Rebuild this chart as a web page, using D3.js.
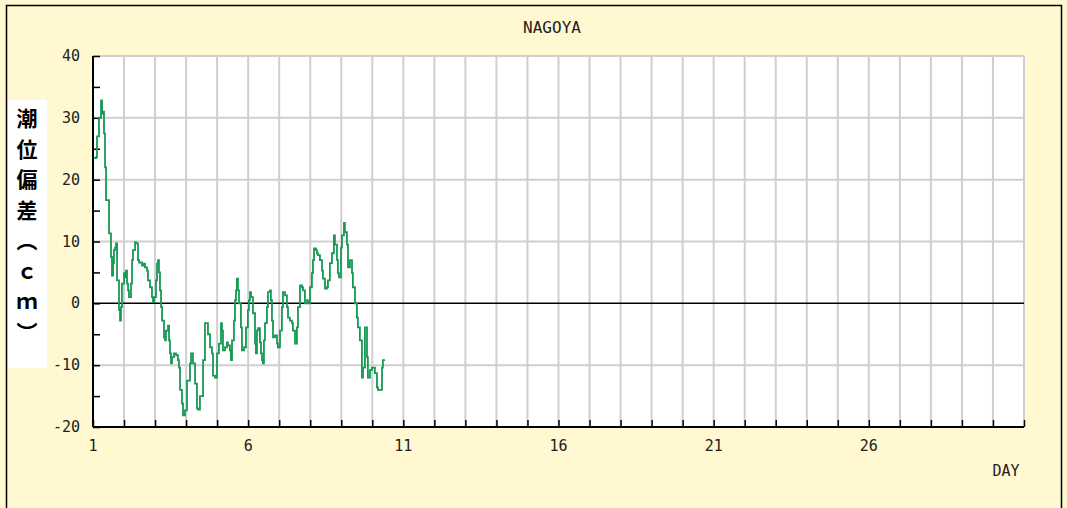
<!DOCTYPE html>
<html><head><meta charset="utf-8">
<script src="https://cdn.jsdelivr.net/npm/d3@7"></script>
<style>body{margin:0;background:#fff;}svg{display:block;}</style>
</head><body>
<svg id="c" width="1067" height="508"></svg>
<script>
// hours since day 1 00:00
const hours = [0.8,2.3,3.1,4.6,6.2,7.0,7.7,8.5,9.3,10.1,11.6,12.4,13.9,14.7,15.5,16.2,17.0,17.8,18.6,20.1,20.9,21.6,22.4,24.0,24.7,25.5,26.3,27.1,27.8,29.4,30.2,30.9,32.5,33.2,34.8,35.6,37.1,37.9,39.4,40.2,41.8,42.5,44.1,45.6,46.4,47.2,48.7,49.5,50.3,51.0,51.8,52.6,53.4,54.9,55.7,56.4,58.0,58.8,59.5,60.3,61.1,62.6,64.2,65.7,66.5,67.3,68.8,69.6,71.1,72.7,75.0,75.8,77.3,78.9,80.4,81.2,82.7,85.1,86.6,87.4,88.9,90.5,92.0,92.8,94.3,95.9,97.4,99.0,99.7,100.5,102.1,103.6,104.4,105.9,106.7,107.5,109.0,109.8,110.6,111.3,112.1,112.9,114.4,115.2,116.8,118.3,119.8,120.6,121.4,122.2,123.7,125.3,126.0,126.8,127.6,129.1,129.9,130.7,131.4,132.2,133.0,134.5,135.3,136.9,137.6,138.4,139.2,140.7,142.3,143.0,144.6,146.1,146.9,148.5,150.0,150.8,152.3,153.9,154.6,156.2,157.7,158.5,160.1,161.6,162.4,163.9,165.5,166.2,167.8,169.3,170.1,170.9,172.4,173.2,174.0,175.5,177.1,177.8,179.4,180.9,181.7,183.2,184.8,186.3,187.1,188.7,189.4,190.2,191.8,192.5,194.1,194.8,196.4,197.2,198.7,200.3,201.0,202.6,204.1,204.9,206.4,208.0,208.8,210.3,211.9,212.6,214.2,215.7,216.5,218.0,219.6,220.4,221.9,223.5,224.2,225.8];
const anomaly = [23.5,23.6,27,30,32.8,30.7,31,27.5,22,16.7,16.7,11.3,7.5,4.5,6.5,8.6,9,9.7,3.7,-1.1,-2.8,-0.6,3.2,4.9,4.2,5.3,3.2,2.1,1,3.2,7,8.6,9.9,9.7,7,6.6,6.6,6.1,6.4,5.8,5.3,3.7,2.6,1,0.2,1,3.7,6.4,7,5,2.1,-0.6,-2.8,-5.5,-6,-4.4,-3.6,-6,-8.1,-9.7,-8.7,-8.1,-8.4,-9.2,-10.4,-14,-16.2,-18.1,-17.3,-12.5,-9.7,-8.1,-9.7,-13,-17,-17.2,-15,-9.2,-3.2,-3.2,-5,-7.1,-8.1,-11.7,-12,-8.1,-6.5,-3.2,-4.4,-7.6,-7.1,-6.3,-6.8,-7.6,-9.2,-6,-2.8,0.5,2.1,4,2.1,0,-3.9,-7.6,-7.1,-3.9,-1.1,0.5,1.8,1,-1.6,-6.5,-8.1,-4.4,-4,-6.3,-8.1,-9.2,-9.7,-6,-3.2,-0.6,1.8,2.1,0.5,-2.8,-5.5,-5.2,-6.5,-7.1,-4.4,-0.6,1.8,1.3,-0.6,-2.3,-2.8,-3.2,-4.4,-6.5,-3.9,-0.6,2.9,2.6,2.1,0,0.5,0,2.6,4.9,7,8.9,8.6,8.1,7.8,7,5.3,4,2.4,2.6,3.7,6.5,8.1,11,9.5,7,4.9,4.2,9,11,13,11.5,9.5,5.8,7,4.9,2.6,0,-2.3,-3.9,-6,-12,-10.4,-3.9,-8.7,-12,-10.8,-10.4,-10.4,-11.3,-13.6,-14,-14,-10.4,-9.2,-9.2];
const xTickLabels = [1,6,11,16,21,26];
const yTickLabels = [40,30,20,10,0,-10,-20];
const yLabelChars = ["潮","位","偏","差","︵","ｃ","ｍ","︶"];
const title = "NAGOYA";
const xTitle = "DAY";

const svg = d3.select("#c");
const L=93,R=1024,T=56,B=427;
const x = d3.scaleLinear().domain([1,31]).range([L,R]);
const y = d3.scaleLinear().domain([-20,40]).range([B,T]);

svg.append("rect").attr("width",1067).attr("height",508).attr("fill","#fff8d0");
svg.append("rect").attr("x",6.5).attr("y",5.5).attr("width",1055).attr("height",520)
  .attr("fill","none").attr("stroke","#000").attr("stroke-width",1.5);
svg.append("rect").attr("x",L).attr("y",T).attr("width",R-L).attr("height",B-T).attr("fill","#fff");

// grid
const days = d3.range(2,32);
svg.append("g").selectAll("line").data(days).join("line")
  .attr("x1",d=>x(d)).attr("x2",d=>x(d)).attr("y1",T).attr("y2",B)
  .attr("stroke","#cfcfcf").attr("stroke-width",2);
svg.append("g").selectAll("line").data(yTickLabels.filter(v=>v!==0&&v!==-20)).join("line")
  .attr("x1",L).attr("x2",R).attr("y1",d=>y(d)).attr("y2",d=>y(d))
  .attr("stroke","#cfcfcf").attr("stroke-width",2);
svg.append("line").attr("x1",L).attr("x2",R).attr("y1",y(0)).attr("y2",y(0))
  .attr("stroke","#000").attr("stroke-width",1.5);

// axes
const yAx = d3.axisRight(y).tickValues(d3.range(-20,41,5)).tickSize(7).tickFormat("");
const ga = svg.append("g").attr("transform",`translate(${L},0)`).call(yAx);
ga.select(".domain").remove();
ga.selectAll("line").attr("stroke","#000").attr("stroke-width",1.5);
svg.append("line").attr("x1",L).attr("x2",L).attr("y1",T).attr("y2",B).attr("stroke","#000").attr("stroke-width",2);

const xAx = d3.axisTop(x).tickValues(d3.range(1,32)).tickSize(7).tickFormat("");
const gx = svg.append("g").attr("transform",`translate(0,${B})`).call(xAx);
gx.select(".domain").remove();
gx.selectAll("line").attr("stroke","#000").attr("stroke-width",1.5);
svg.append("line").attr("x1",L).attr("x2",R).attr("y1",B).attr("y2",B).attr("stroke","#000").attr("stroke-width",2);

const font = "'DejaVu Sans Mono', monospace";
svg.append("g").selectAll("text").data(yTickLabels).join("text")
  .attr("x",80).attr("y",d=>y(d)+5).attr("text-anchor","end")
  .attr("font-family",font).attr("font-size",15).attr("fill","#222").text(d=>d);
svg.append("g").selectAll("text").data(xTickLabels).join("text")
  .attr("x",d=>x(d)).attr("y",451).attr("text-anchor","middle")
  .attr("font-family",font).attr("font-size",15).attr("fill","#222").text(d=>d);
svg.append("text").attr("x",552).attr("y",33).attr("text-anchor","middle")
  .attr("font-family",font).attr("font-size",16).attr("fill","#222").text(title);
svg.append("text").attr("x",1006).attr("y",476).attr("text-anchor","middle")
  .attr("font-family",font).attr("font-size",15).attr("fill","#222").text(xTitle);

// y label
svg.append("rect").attr("x",8).attr("y",100).attr("width",39).attr("height",268).attr("fill","#fff");
svg.append("g").selectAll("text").data(yLabelChars).join("text")
  .attr("x",27).attr("y",(d,i)=>126+i*30.5).attr("text-anchor","middle")
  .attr("font-family","'Noto Sans CJK JP', sans-serif").attr("font-weight","bold")
  .attr("font-size",21).attr("fill","#000").text(d=>d);

// data line
const pts = hours.map((h,i)=>[1+h/24, anomaly[i]]);
svg.append("path").datum(pts)
  .attr("d", d3.line().x(d=>x(d[0])).y(d=>y(d[1])).curve(d3.curveStepAfter))
  .attr("fill","none").attr("stroke","#169955").attr("stroke-width",1.8);
</script>
</body></html>
